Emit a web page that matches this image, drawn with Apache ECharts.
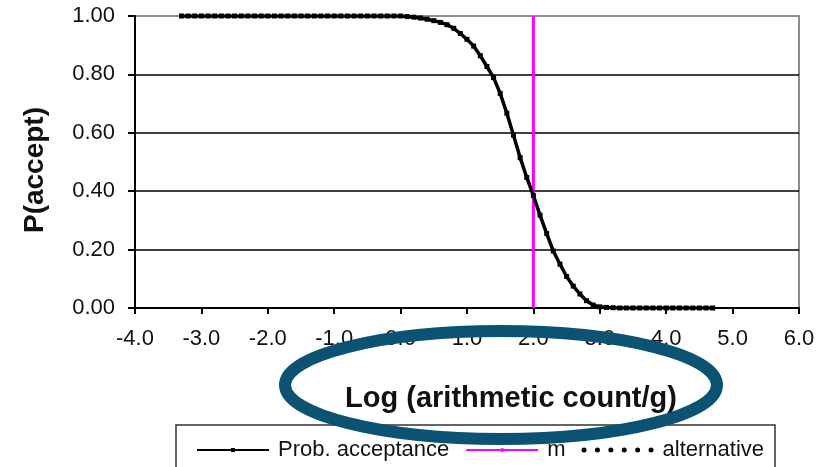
<!DOCTYPE html>
<html>
<head>
<meta charset="utf-8">
<script src="https://cdn.jsdelivr.net/npm/echarts@6/dist/echarts.min.js"></script>
<style>
html,body{margin:0;padding:0;background:#fff;}
#c{width:830px;height:467px;}
</style>
</head>
<body>
<div id="c"></div>
<script>
// x values: log (arithmetic count/g)
const logCount = [-3.3,-3.2,-3.1,-3.0,-2.9,-2.8,-2.7,-2.6,-2.5,-2.4,-2.3,-2.2,-2.1,-2.0,-1.9,-1.8,-1.7,-1.6,-1.5,-1.4,-1.3,-1.2,-1.1,-1.0,-0.9,-0.8,-0.7,-0.6,-0.5,-0.4,-0.3,-0.2,-0.1,0.0,0.1,0.2,0.3,0.4,0.5,0.6,0.7,0.8,0.9,1.0,1.1,1.2,1.3,1.4,1.5,1.6,1.7,1.8,1.9,2.0,2.1,2.2,2.3,2.4,2.5,2.6,2.7,2.8,2.9,3.0,3.1,3.2,3.3,3.4,3.5,3.6,3.7,3.8,3.9,4.0,4.1,4.2,4.3,4.4,4.5,4.6,4.7];
// P(accept)
const probAcceptance = [1.000,1.000,1.000,1.000,1.000,1.000,1.000,1.000,1.000,1.000,1.000,1.000,1.000,1.000,1.000,1.000,1.000,1.000,1.000,1.000,1.000,1.000,1.000,1.000,1.000,1.000,1.000,1.000,1.000,1.000,1.000,1.000,1.000,1.000,0.998,0.996,0.993,0.989,0.984,0.978,0.970,0.958,0.940,0.920,0.897,0.864,0.827,0.789,0.735,0.667,0.592,0.515,0.447,0.385,0.318,0.255,0.195,0.150,0.108,0.075,0.048,0.025,0.010,0.004,0.002,0.001,0.000,0.000,0.000,0.000,0.000,0.000,0.000,0.000,0.000,0.000,0.000,0.000,0.000,0.000,0.000];
// vertical line m
const mX = [2.0, 2.0];
const mY = [0.0, 1.0];
// alternative (no visible points)
const alternativeX = [];
const alternativeY = [];
// axis ticks
const xTicks = {min: -4, max: 6, step: 1};
const yTicks = {min: 0, max: 1, step: 0.2};

const FONT = 'Liberation Sans, Arial, sans-serif';
// legend icon for "alternative": six round dots
let dots = '';
for (let i = 0; i < 6; i++) {
  const cx = 2.5 + i * 13.4;
  dots += 'M' + (cx - 2.5) + ',2.5 a2.5,2.5 0 1,0 5,0 a2.5,2.5 0 1,0 -5,0 Z ';
}

const chart = echarts.init(document.getElementById('c'), null, {renderer: 'canvas'});
chart.setOption({
  animation: false,
  backgroundColor: '#fff',
  textStyle: {fontFamily: FONT},
  grid: {left: 135, right: 31, top: 16, bottom: 159, show: true, borderColor: '#8c8c8c', borderWidth: 2, backgroundColor: '#fff'},
  xAxis: {
    type: 'value', min: xTicks.min, max: xTicks.max, interval: xTicks.step,
    name: 'Log (arithmetic count/g)', nameLocation: 'middle', nameGap: 76,
    nameTextStyle: {fontSize: 29, fontWeight: 'bold', color: '#111', fontFamily: FONT, padding: [0, 0, 0, 88]},
    axisLine: {onZero: false, lineStyle: {color: '#000', width: 2}},
    axisTick: {show: true, inside: false, length: 6, lineStyle: {color: '#000', width: 2}},
    axisLabel: {fontSize: 22, color: '#111', margin: 20, fontFamily: FONT, formatter: v => v.toFixed(1)},
    splitLine: {show: false}
  },
  yAxis: {
    type: 'value', min: yTicks.min, max: yTicks.max, interval: yTicks.step,
    name: 'P(accept)', nameLocation: 'middle', nameGap: 86, nameRotate: 90,
    nameTextStyle: {fontSize: 28, fontWeight: 'bold', color: '#111', fontFamily: FONT, padding: [0, 16, 0, 0]},
    axisLine: {show: true, onZero: false, lineStyle: {color: '#000', width: 2}},
    axisTick: {show: true, inside: false, length: 7, lineStyle: {color: '#000', width: 2}},
    axisLabel: {fontSize: 22, color: '#111', margin: 20, fontFamily: FONT, formatter: v => v.toFixed(2)},
    splitLine: {show: true, showMinLine: false, showMaxLine: false, lineStyle: {color: '#000', width: 1.5}}
  },
  legend: {
    left: 191, top: 434, itemWidth: 72, itemHeight: 5, itemGap: 16,
    textStyle: {fontSize: 22, color: '#111', fontFamily: FONT, padding: [0, 0, 0, 4]},
    data: [
      {name: 'Prob. acceptance'},
      {name: 'm'},
      {name: 'alternative', icon: 'path://' + dots, itemStyle: {color: '#000'}}
    ]
  },
  series: [
    {
      name: 'Prob. acceptance', type: 'line',
      data: logCount.map((x, i) => [x, probAcceptance[i]]),
      symbol: 'rect', symbolSize: [5, 5], showSymbol: true,
      itemStyle: {color: '#000'},
      lineStyle: {color: '#000', width: 3.5},
      z: 3
    },
    {
      name: 'm', type: 'line',
      data: mX.map((x, i) => [x, mY[i]]),
      symbol: 'none',
      itemStyle: {color: '#ff00ff'},
      lineStyle: {color: '#ff00ff', width: 3},
      z: 2
    },
    {
      name: 'alternative', type: 'line',
      data: alternativeX.map((x, i) => [x, alternativeY[i]]),
      symbol: 'none',
      itemStyle: {color: '#000'},
      lineStyle: {color: '#000', width: 5, type: 'dotted'}
    }
  ],
  graphic: [
    {type: 'rect', z: -1, shape: {x: 176, y: 425, width: 599, height: 60}, style: {fill: '#fff', stroke: '#333', lineWidth: 1.5}},
    {type: 'ellipse', z: 100, shape: {cx: 501, cy: 385, rx: 216, ry: 54}, style: {fill: 'none', stroke: '#0b5273', lineWidth: 12}}
  ]
});
</script>
</body>
</html>
